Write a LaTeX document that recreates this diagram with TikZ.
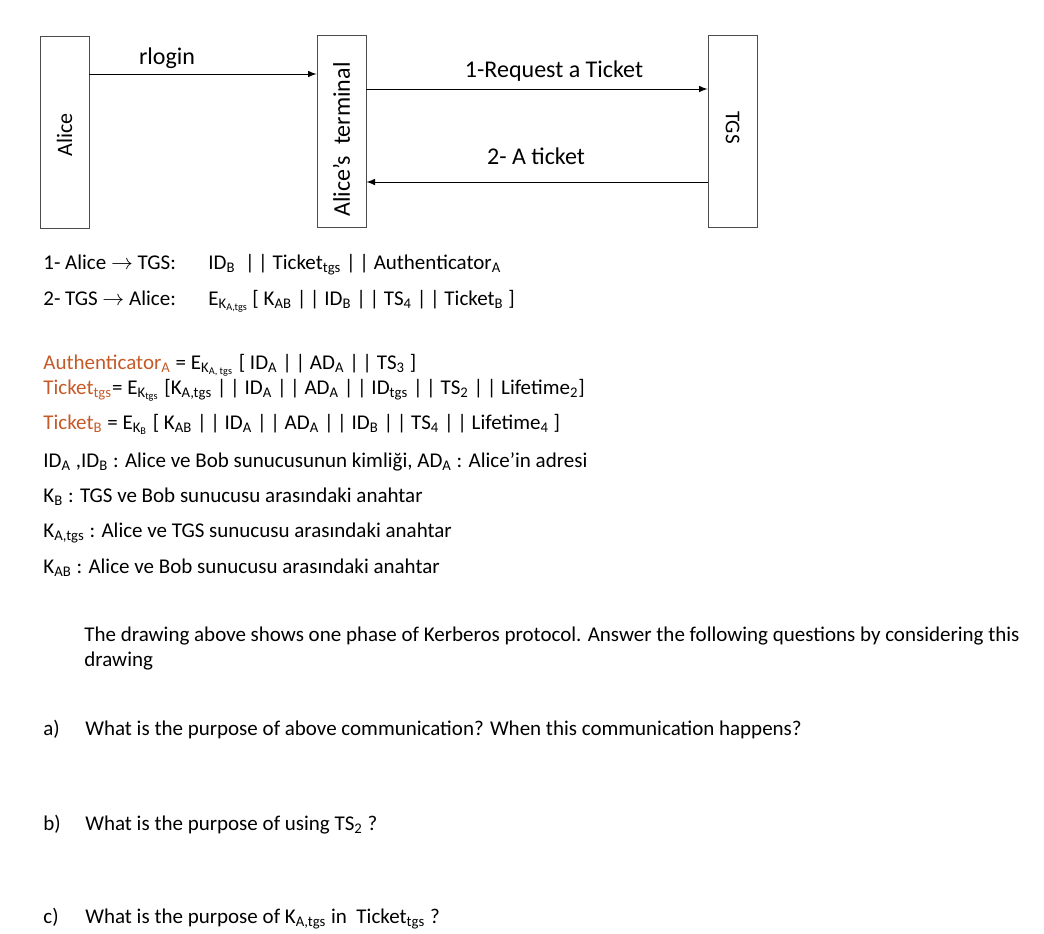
\documentclass[tikz,border=0pt]{standalone}
\usepackage{fontspec}
\setmainfont{Carlito}
\usepackage{xcolor}
\usetikzlibrary{shapes,arrows}
\definecolor{rust}{RGB}{197,90,40}
\tikzstyle{line} = [draw, line width=0.5pt, -latex]
\tikzstyle{box} = [draw=black!70, minimum width=24.5pt, minimum height=96pt, inner sep=0pt]
\tikzstyle{lbl} = [anchor=base, inner sep=0pt, font=\fontsize{12}{14}\selectfont]
\tikzstyle{txt} = [anchor=base west, inner sep=0pt, font=\fontsize{10.5}{12}\selectfont]
\newcommand{\subtxt}[1]{\textsubscript{#1}}

\begin{document}
\begin{tikzpicture}[x=0.5pt,y=0.5pt]
\useasboundingbox (0,0) rectangle (1044,-933);
\node[box] (alice) at (64.5,-132) {\rotatebox{90}{\fontsize{11}{13}\selectfont Alice\hspace{3pt}}};
\node[box] (term) at (341.5,-131.5) {\rotatebox{90}{\fontsize{12}{14}\selectfont Alice’s\ \ terminal\hspace{8pt}}};
\node[box] (tgs) at (732.5,-131.5) {\rotatebox{-90}{\fontsize{10.5}{12}\selectfont TGS\hspace{4pt}}};
%
\coordinate (rl) at (0,-74);
\coordinate (rq) at (0,-89);
\coordinate (tk) at (0,-182);
\draw[line] (alice.east |- rl) -- (term.west |- rl);
\draw[line] (term.east |- rq) -- (tgs.west |- rq);
\draw[line] (tgs.west |- tk) -- (term.east |- tk);
\node[lbl] (rlogin) at (167,-64) {rlogin};
\node[lbl] (req) at (554,-77) {1-Request a Ticket};
\node[lbl] (tick) at (536,-164) {2- A ticket};
%
\node[txt] (m1) at (43,-269) {1- Alice $\rightarrow$ TGS:};
\node[txt] (m1b) at (208,-269) {ID\subtxt{B} \ |\,| Ticket\subtxt{tgs} |\,| Authenticator\subtxt{A}};
\node[txt] (m2) at (43,-305) {2- TGS $\rightarrow$ Alice:};
\node[txt] (m2b) at (208,-305) {E\subtxt{K\subtxt{A,tgs}}\,[ K\subtxt{AB} |\,| ID\subtxt{B} |\,| TS\subtxt{4} |\,| Ticket\subtxt{B} ]};
%
\node[txt] (d1) at (43,-369) {\textcolor{rust}{Authenticator\subtxt{A}} = E\subtxt{K\subtxt{A, tgs}} [ ID\subtxt{A} |\,| AD\subtxt{A} |\,| TS\subtxt{3} ]};
\node[txt] (d2) at (43,-394) {\textcolor{rust}{Ticket\subtxt{tgs}}= E\subtxt{K\subtxt{tgs}} [K\subtxt{A,tgs} |\,| ID\subtxt{A} |\,| AD\subtxt{A} |\,| ID\subtxt{tgs} |\,| TS\subtxt{2} |\,| Lifetime\subtxt{2}]};
\node[txt] (d3) at (43,-429) {\textcolor{rust}{Ticket\subtxt{B}} = E\subtxt{K\subtxt{B}} [ K\subtxt{AB} |\,| ID\subtxt{A} |\,| AD\subtxt{A} |\,| ID\subtxt{B} |\,| TS\subtxt{4} |\,| Lifetime\subtxt{4} ]};
\node[txt] (d4) at (43,-467) {ID\subtxt{A} ,ID\subtxt{B} : Alice ve Bob sunucusunun kimliği, AD\subtxt{A} : Alice’in adresi};
\node[txt] (d5) at (43,-502) {K\subtxt{B} : TGS ve Bob sunucusu arasındaki anahtar};
\node[txt] (d6) at (43,-537) {K\subtxt{A,tgs} : Alice ve TGS sunucusu arasındaki anahtar};
\node[txt] (d7) at (43,-573) {K\subtxt{AB} : Alice ve Bob sunucusu arasındaki anahtar};
%
\node[txt] (intro) at (84,-641) {The drawing above shows one phase of Kerberos protocol. Answer the following questions by considering this};
\node[txt] (intro2) at (84,-666) {drawing};
%
\node[txt] (qa) at (43,-735) {a)};
\node[txt] (qatext) at (85,-735) {What is the purpose of above communication? When this communication happens?};
\node[txt] (qb) at (43,-830) {b)};
\node[txt] (qbtext) at (85,-830) {What is the purpose of using TS\subtxt{2} ?};
\node[txt] (qc) at (43,-923) {c)};
\node[txt] (qctext) at (85,-923) {What is the purpose of K\subtxt{A,tgs} in\ \ Ticket\subtxt{tgs} ?};
\end{tikzpicture}
\end{document}
